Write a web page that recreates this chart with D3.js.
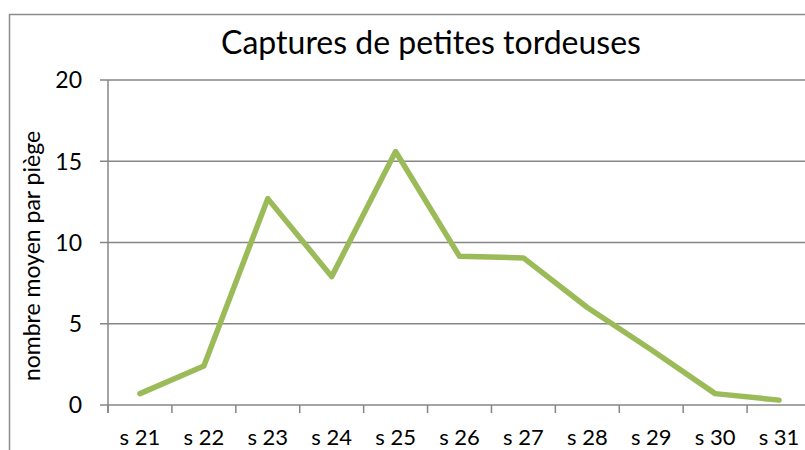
<!DOCTYPE html>
<html>
<head>
<meta charset="utf-8">
<script src="https://cdn.jsdelivr.net/npm/d3@7"></script>
<style>
  body { margin: 0; background: #fff; }
  svg { display: block; font-family: Lato, "Open Sans", sans-serif; }
</style>
</head>
<body>
<svg id="chart" width="805" height="450"></svg>
<script>
// weeks and mean catches per trap
const weeks = ["s 21", "s 22", "s 23", "s 24", "s 25", "s 26", "s 27", "s 28", "s 29", "s 30", "s 31"];
const captures = [0.7, 2.4, 12.7, 7.9, 15.6, 9.15, 9.05, 6.0, 3.4, 0.7, 0.3];
const yTicks = [0, 5, 10, 15, 20];
const title = "Captures de petites tordeuses";
const yLabel = "nombre moyen par piège";

const svg = d3.select("#chart");
const plotLeft = 108, plotRight = 811, plotTop = 80, plotBottom = 405;

// outer chart border (runs off the picture on right and bottom)
svg.append("rect")
    .attr("x", 9.5).attr("y", 14.5)
    .attr("width", 900).attr("height", 500)
    .attr("fill", "none")
    .attr("stroke", "#8c8c8c")
    .attr("stroke-width", 1.5);

let x = d3.scaleBand().domain(weeks).range([plotLeft, plotRight]);
let y = d3.scaleLinear().domain([0, 20]).range([plotBottom, plotTop]);

// gridlines
svg.append("g")
    .selectAll("line")
    .data(yTicks)
    .join("line")
    .attr("x1", plotLeft - 8)
    .attr("x2", 805)
    .attr("y1", d => y(d))
    .attr("y2", d => y(d))
    .attr("stroke", "#868686")
    .attr("stroke-width", 1.5);

// y axis line
svg.append("line")
    .attr("x1", plotLeft).attr("x2", plotLeft)
    .attr("y1", plotTop).attr("y2", plotBottom + 8)
    .attr("stroke", "#868686").attr("stroke-width", 1.5);

// x axis ticks at band edges
let edges = weeks.map(w => x(w)).concat([x(weeks[weeks.length - 1]) + x.bandwidth()]);
svg.append("g")
    .selectAll("line")
    .data(edges)
    .join("line")
    .attr("x1", d => d).attr("x2", d => d)
    .attr("y1", plotBottom).attr("y2", plotBottom + 8)
    .attr("stroke", "#868686").attr("stroke-width", 1.5);

// y tick labels
svg.append("g")
    .selectAll("text")
    .data(yTicks)
    .join("text")
    .attr("x", 82)
    .attr("y", d => y(d) + 8.3)
    .attr("text-anchor", "end")
    .attr("font-size", 23)
    .attr("fill", "#000")
    .text(d => d);

// x tick labels
svg.append("g")
    .selectAll("text")
    .data(weeks)
    .join("text")
    .attr("x", d => x(d) + x.bandwidth() / 2)
    .attr("y", 445)
    .attr("text-anchor", "middle")
    .attr("font-size", 22)
    .attr("fill", "#000")
    .text(d => d);

// line
let line = d3.line()
    .x((d, i) => x(weeks[i]) + x.bandwidth() / 2)
    .y(d => y(d));

svg.append("path")
    .datum(captures)
    .attr("d", line)
    .attr("fill", "none")
    .attr("stroke", "#9bbb59")
    .attr("stroke-width", 5.5)
    .attr("stroke-linejoin", "round")
    .attr("stroke-linecap", "round");

// title
svg.append("text")
    .attr("x", 431)
    .attr("y", 53.5)
    .attr("text-anchor", "middle")
    .attr("font-size", 32)
    .attr("fill", "#000")
    .text(title);

// y axis title
svg.append("text")
    .attr("transform", "translate(39.5,256) rotate(-90)")
    .attr("text-anchor", "middle")
    .attr("font-size", 23)
    .attr("fill", "#000")
    .text(yLabel);
</script>
</body>
</html>
